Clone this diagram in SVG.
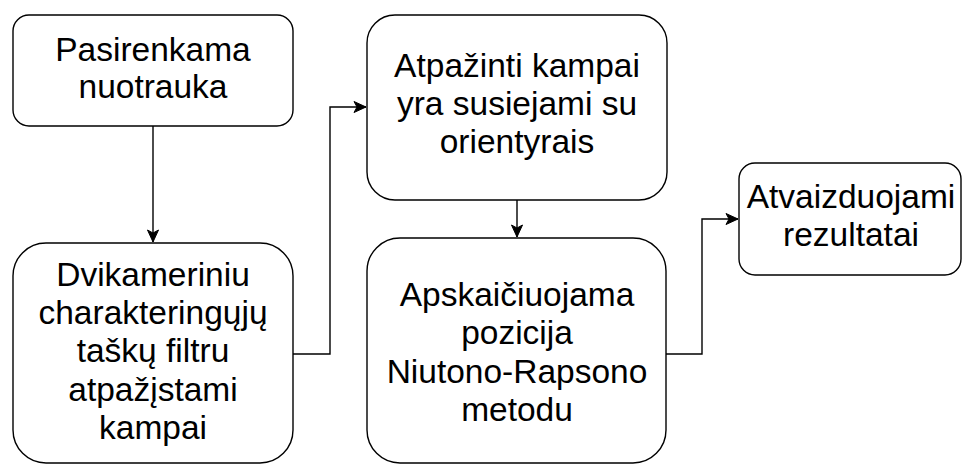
<svg xmlns="http://www.w3.org/2000/svg" width="962" height="465" viewBox="0 0 962 465">
<style>
.box{fill:#fff;stroke:#000;stroke-width:1.4}
.t{font-family:"Liberation Sans",Arial,Helvetica,sans-serif;font-size:33.5px;fill:#000;text-anchor:middle}
.c{fill:none;stroke:#000;stroke-width:1.4}
</style>
<defs>
<marker id="arr" markerUnits="userSpaceOnUse" markerWidth="16" markerHeight="16" refX="13" refY="7" orient="auto">
<path d="M1,1.5 L13,7 L1,12.5 L4,7 Z" fill="#000" stroke="#000" stroke-width="1"/>
</marker>
</defs>
<rect width="962" height="465" fill="#fff"/>
<g id="connectors">
<path class="c" d="M153,126 L153,242" marker-end="url(#arr)"/>
<path class="c" d="M293,354 L330,354 L330,107 L366,107" marker-end="url(#arr)"/>
<path class="c" d="M517,200 L517,237" marker-end="url(#arr)"/>
<path class="c" d="M666,354 L702,354 L702,219 L738,219" marker-end="url(#arr)"/>
</g>
<g id="n1">
<rect class="box" x="13" y="15" width="280" height="111" rx="16" ry="16"/>
<text class="t" x="153" y="61">Pasirenkama</text>
<text class="t" x="153" y="98">nuotrauka</text>
</g>
<g id="n2">
<rect class="box" x="13" y="243" width="280" height="220" rx="33" ry="33"/>
<text class="t" x="153" y="286">Dvikameriniu</text>
<text class="t" x="153" y="324">charakteringųjų</text>
<text class="t" x="153" y="362">taškų filtru</text>
<text class="t" x="153" y="401">atpažįstami</text>
<text class="t" x="153" y="439">kampai</text>
</g>
<g id="n3">
<rect class="box" x="367" y="15" width="300" height="185" rx="28" ry="28"/>
<text class="t" x="517" y="77">Atpažinti kampai</text>
<text class="t" x="517" y="115">yra susiejami su</text>
<text class="t" x="517" y="153">orientyrais</text>
</g>
<g id="n4">
<rect class="box" x="367" y="238" width="299" height="225" rx="33" ry="33"/>
<text class="t" x="517" y="306">Apskaičiuojama</text>
<text class="t" x="517" y="344">pozicija</text>
<text class="t" x="517" y="383">Niutono-Rapsono</text>
<text class="t" x="517" y="421">metodu</text>
</g>
<g id="n5">
<rect class="box" x="739" y="163" width="222" height="112" rx="16" ry="16"/>
<text class="t" x="851" y="208">Atvaizduojami</text>
<text class="t" x="851" y="246">rezultatai</text>
</g>
</svg>
